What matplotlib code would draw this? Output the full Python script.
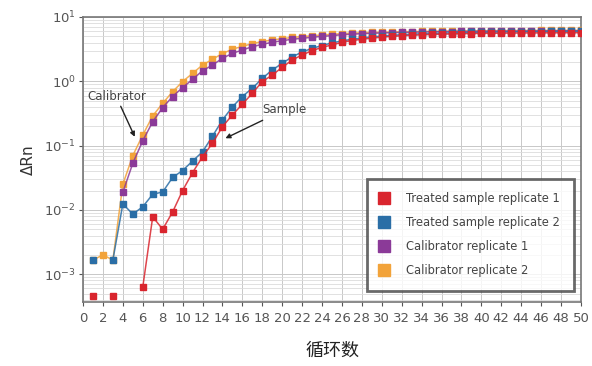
import numpy as np
import matplotlib
matplotlib.use("Agg")
import matplotlib.pyplot as plt
from matplotlib.ticker import LogLocator, FixedLocator

plt.rcParams['font.family'] = ['DejaVu Sans', 'Noto Sans CJK SC']

nan = np.nan
cycles = np.arange(1, 51)

# ΔRn values (nan = not shown on log scale)
treated_1 = [4.6e-4, nan, 4.6e-4, nan, nan, 6.3e-4, 7.8e-3, 5.0e-3, 9.3e-3, 0.020,
             0.038, 0.067, 0.109, 0.197, 0.30, 0.44, 0.65, 0.99, 1.25, 1.65,
             2.14, 2.57, 2.99, 3.38, 3.67, 4.04, 4.3, 4.5, 4.7, 4.85,
             5.0, 5.1, 5.2, 5.28, 5.35, 5.4, 5.45, 5.5, 5.53, 5.56,
             5.58, 5.6, 5.62, 5.64, 5.65, 5.66, 5.67, 5.68, 5.69, 5.7]
treated_2 = [1.66e-3, nan, 1.66e-3, 0.0124, 8.6e-3, 0.0112, 0.0175, 0.019, 0.032, 0.041,
             0.0575, 0.080, 0.14, 0.25, 0.40, 0.58, 0.78, 1.11, 1.5, 1.9,
             2.4, 2.85, 3.25, 3.6, 3.95, 4.25, 4.5, 4.7, 4.9, 5.05,
             5.2, 5.3, 5.4, 5.48, 5.55, 5.6, 5.65, 5.7, 5.74, 5.78,
             5.81, 5.84, 5.87, 5.9, 5.92, 5.94, 5.96, 5.97, 5.99, 6.0]
calib_1 = [nan, nan, nan, 0.0188, 0.053, 0.119, 0.235, 0.39, 0.58, 0.80,
           1.07, 1.46, 1.79, 2.28, 2.72, 3.07, 3.45, 3.76, 4.04, 4.28,
           4.5, 4.67, 4.83, 5.0, 5.13, 5.3, 5.4, 5.5, 5.58, 5.65,
           5.7, 5.75, 5.8, 5.84, 5.88, 5.91, 5.94, 5.96, 5.98, 6.0,
           6.02, 6.03, 6.04, 6.05, 6.06, 6.07, 6.08, 6.09, 6.1, 6.1]
calib_2 = [1.66e-3, 2.0e-3, 1.66e-3, 0.025, 0.070, 0.146, 0.29, 0.455, 0.69, 0.99,
           1.33, 1.79, 2.2, 2.7, 3.15, 3.5, 3.85, 4.15, 4.4, 4.6,
           4.8, 4.95, 5.1, 5.25, 5.38, 5.5, 5.6, 5.68, 5.75, 5.8,
           5.85, 5.9, 5.94, 5.97, 6.0, 6.03, 6.05, 6.07, 6.09, 6.1,
           6.12, 6.13, 6.14, 6.15, 6.16, 6.17, 6.18, 6.19, 6.2, 6.2]

labels = ["Treated sample replicate 1", "Treated sample replicate 2",
          "Calibrator replicate 1", "Calibrator replicate 2"]
colors = ["#d9252e", "#2a6ea6", "#8b3a98", "#f2a33a"]
series = [treated_1, treated_2, calib_1, calib_2]

fig = plt.figure(figsize=(5.92, 3.66), dpi=100)
ax = fig.add_axes([0.1402, 0.1749, 0.8412, 0.7787])

handles = []
# draw calibrators first so treated sample sits on top
for idx in [3, 2, 1, 0]:
    y = np.array(series[idx], dtype=float)
    m = ~np.isnan(y)
    ax.plot(cycles, y, color=colors[idx], lw=1.1, alpha=0.85, zorder=2 + (3 - idx))
    ax.plot(cycles[m], y[m], ls="none", marker="s", ms=5, color=colors[idx],
            zorder=3 + (3 - idx))
for idx in range(4):
    h, = ax.plot([], [], ls="none", marker="s", ms=9, color=colors[idx], label=labels[idx])
    handles.append(h)

ax.set_yscale("log")
ax.set_xlim(0, 50)
ax.set_ylim(3.7e-4, 10)
ax.xaxis.set_major_locator(FixedLocator(np.arange(0, 51, 2)))
ax.yaxis.set_major_locator(LogLocator(base=10, numticks=10))
ax.yaxis.set_minor_locator(LogLocator(base=10, subs=np.arange(2, 10), numticks=50))
ax.tick_params(axis="y", which="minor", length=0)
ax.tick_params(axis="both", which="major", direction="out", length=3, width=0.8,
               colors="#555555", labelsize=9.5, pad=2)
ax.tick_params(axis="x", pad=4)

ax.grid(True, which="major", color="#c8c8c8", lw=0.7)
ax.grid(True, which="minor", axis="y", color="#dcdcdc", lw=0.6)
ax.set_axisbelow(True)
for s in ax.spines.values():
    s.set_color("#777777")
    s.set_linewidth(1.2)

ax.set_ylabel("ΔRn", fontsize=11, color="#333333", labelpad=6)
ax.set_xlabel("循环数", fontsize=13, family=["Noto Sans CJK SC", "DejaVu Sans"],
              color="#222222", labelpad=12)

ax.annotate("Calibrator", xy=(5.2, 0.137), xytext=(0.4, 0.57), fontsize=8.5,
            color="#444444", va="center", ha="left",
            arrowprops=dict(arrowstyle="-|>", color="#222222", lw=1.0,
                            shrinkA=0, shrinkB=0, mutation_scale=7),
            zorder=10)
ax.annotate("Sample", xy=(14.3, 0.13), xytext=(18.0, 0.36), fontsize=8.5,
            color="#444444", va="center", ha="left",
            arrowprops=dict(arrowstyle="-|>", color="#222222", lw=1.0,
                            shrinkA=2, shrinkB=0, mutation_scale=7),
            zorder=10)

leg = ax.legend(handles=handles, loc="lower right", bbox_to_anchor=(0.985, 0.04),
                fontsize=8.3, frameon=True, fancybox=False, handlelength=0.8,
                handletextpad=1.5, borderpad=1.15, labelspacing=0.95,
                borderaxespad=0)
leg.get_frame().set_edgecolor("#444444")
leg.get_frame().set_linewidth(2)
for t in leg.get_texts():
    t.set_color("#444444")

fig.savefig("out.png", dpi=100)
